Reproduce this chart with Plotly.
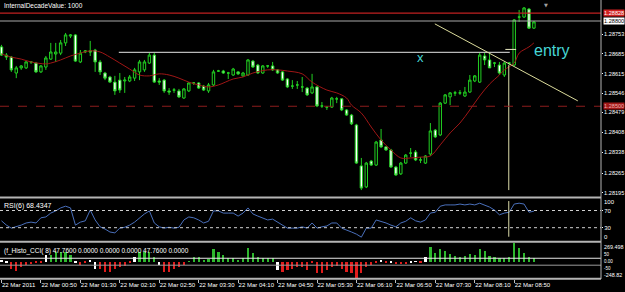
import plotly.graph_objects as go

# ---------------- data ----------------
bars = list(range(109))

open_p = [1.28709,1.28680,1.28673,1.28617,1.28635,1.28635,1.28656,1.28652,1.28621,1.28638,
          1.28666,1.28684,1.28687,1.28723,1.28747,1.28751,1.28656,1.28691,1.28695,1.28698,
          1.28656,1.28617,1.28603,1.28585,1.28592,1.28589,1.28589,1.28599,1.28621,1.28628,
          1.28652,1.28680,1.28589,1.28592,1.28554,1.28557,1.28554,1.28529,1.28554,1.28582,
          1.28582,1.28571,1.28554,1.28575,1.28624,1.28624,1.28617,1.28610,1.28621,1.28607,
          1.28610,1.28659,1.28645,1.28617,1.28642,1.28642,1.28628,1.28621,1.28596,1.28571,
          1.28575,1.28568,1.28564,1.28547,1.28568,1.28501,1.28497,1.28497,1.28526,1.28526,
          1.28487,1.28469,1.28434,1.28290,1.28216,1.28307,1.28293,1.28381,1.28357,1.28346,
          1.28286,1.28262,1.28300,1.28335,1.28339,1.28311,1.28300,1.28332,1.28416,1.28399,
          1.28511,1.28533,1.28547,1.28547,1.28536,1.28550,1.28589,1.28585,1.28677,1.28663,
          1.28652,1.28645,1.28610,1.28652,1.28645,1.28814,1.28814,1.28842,1.28775]

high_p = [1.28716,1.28687,1.28677,1.28642,1.28645,1.28659,1.28659,1.28656,1.28645,1.28677,
          1.28723,1.28723,1.28733,1.28758,1.28754,1.28754,1.28698,1.28698,1.28730,1.28702,
          1.28663,1.28621,1.28607,1.28607,1.28617,1.28603,1.28610,1.28635,1.28663,1.28663,
          1.28691,1.28691,1.28599,1.28596,1.28564,1.28564,1.28561,1.28564,1.28585,1.28585,
          1.28585,1.28575,1.28582,1.28628,1.28628,1.28628,1.28621,1.28635,1.28624,1.28621,
          1.28666,1.28663,1.28649,1.28645,1.28645,1.28656,1.28631,1.28624,1.28599,1.28592,
          1.28589,1.28603,1.28568,1.28614,1.28571,1.28515,1.28501,1.28533,1.28533,1.28529,
          1.28490,1.28473,1.28438,1.28318,1.28304,1.28311,1.28378,1.28420,1.28360,1.28350,
          1.28290,1.28304,1.28332,1.28353,1.28346,1.28321,1.28328,1.28441,1.28420,1.28515,
          1.28543,1.28550,1.28554,1.28557,1.28568,1.28610,1.28610,1.28691,1.28691,1.28687,
          1.28656,1.28656,1.28656,1.28656,1.28807,1.28839,1.28849,1.28846,1.28800]

low_p = [1.28677,1.28663,1.28621,1.28599,1.28628,1.28631,1.28649,1.28617,1.28617,1.28628,
         1.28663,1.28656,1.28680,1.28712,1.28740,1.28656,1.28652,1.28687,1.28677,1.28621,
         1.28610,1.28592,1.28582,1.28540,1.28547,1.28547,1.28585,1.28589,1.28592,1.28621,
         1.28649,1.28582,1.28575,1.28547,1.28540,1.28547,1.28529,1.28526,1.28550,1.28575,
         1.28561,1.28554,1.28547,1.28571,1.28621,1.28614,1.28596,1.28607,1.28610,1.28603,
         1.28607,1.28635,1.28614,1.28614,1.28635,1.28624,1.28614,1.28589,1.28564,1.28561,
         1.28561,1.28550,1.28536,1.28543,1.28497,1.28494,1.28487,1.28494,1.28511,1.28483,
         1.28466,1.28434,1.28297,1.28205,1.28212,1.28290,1.28290,1.28353,1.28343,1.28283,
         1.28255,1.28258,1.28297,1.28321,1.28307,1.28300,1.28297,1.28325,1.28388,1.28395,
         1.28508,1.28504,1.28536,1.28540,1.28533,1.28547,1.28585,1.28582,1.28645,1.28635,
         1.28638,1.28610,1.28603,1.28645,1.28642,1.28797,1.28811,1.28772,1.28772]

close_p = [1.28680,1.28673,1.28628,1.28635,1.28642,1.28656,1.28656,1.28621,1.28642,1.28670,
           1.28691,1.28691,1.28723,1.28751,1.28751,1.28659,1.28687,1.28695,1.28691,1.28656,
           1.28621,1.28599,1.28585,1.28554,1.28557,1.28592,1.28603,1.28628,1.28656,1.28656,
           1.28680,1.28585,1.28585,1.28554,1.28550,1.28557,1.28533,1.28561,1.28582,1.28582,
           1.28564,1.28557,1.28575,1.28621,1.28624,1.28617,1.28617,1.28631,1.28614,1.28617,
           1.28663,1.28638,1.28617,1.28642,1.28642,1.28628,1.28617,1.28592,1.28568,1.28571,
           1.28575,1.28568,1.28540,1.28568,1.28501,1.28501,1.28497,1.28529,1.28526,1.28487,
           1.28469,1.28438,1.28300,1.28212,1.28300,1.28293,1.28374,1.28357,1.28346,1.28286,
           1.28258,1.28300,1.28328,1.28335,1.28311,1.28311,1.28325,1.28413,1.28392,1.28511,
           1.28540,1.28547,1.28547,1.28547,1.28550,1.28592,1.28607,1.28680,1.28663,1.28635,
           1.28652,1.28617,1.28652,1.28652,1.28804,1.28814,1.28846,1.28775,1.28797]

# red moving average, read at selected bars
ma_bars = [0, 2, 4, 6, 9, 10, 12, 14, 16, 18, 20, 22, 24, 26, 28, 30, 32, 34, 36, 38,
           40, 42, 44, 47, 49, 51, 54, 56, 58, 61, 63, 66, 68, 70, 71, 73, 75, 77, 79, 81,
           83, 85, 87, 89, 91, 93, 95, 97, 99, 101, 102, 104, 105, 107, 108]
ma_vals = [1.28684,1.28673,1.28666,1.28656,1.28649,1.28652,1.28663,1.28677,1.28687,1.28695,
           1.28691,1.28673,1.28652,1.28631,1.28610,1.28607,1.28614,1.28610,1.28599,1.28585,
           1.28575,1.28568,1.28575,1.28596,1.28603,1.28617,1.28628,1.28628,1.28624,1.28614,
           1.28585,1.28557,1.28547,1.28529,1.28504,1.28476,1.28427,1.28381,1.28346,1.28318,
           1.28318,1.28321,1.28325,1.28364,1.28406,1.28441,1.28487,1.28536,1.28578,1.28610,
           1.28628,1.28652,1.28687,1.28709,1.28723]

rsi = [46,36,29,32,36,41,43,41,53,55, 64,69,76,80,76,36,43,46,71,48,
       32,27,20,18,29,31,36,43,53,62, 69,41,32,29,31,29,31,48,55,53,
       48,41,45,69,69,64,64,64,57,64, 76,62,57,53,48,50,43,36,29,29,
       29,32,29,41,29,32,34,41,41,29, 25,20,15,8,29,29,48,45,41,36,
       32,41,45,53,46,43,48,64,66,80, 83,83,83,85,83,85,83,87,83,78,
       71,60,64,66,85,87,85,66,68.4347]

hist = [20,-10,-110,-140,-70,-50,-35,-20,-20,95, 96,144,144,144,96,-15,-40,-20,30,-110,
        -110,-144,-144,-110,-80,-60,-20,72,144,144, 144,72,-40,-144,-144,-100,-80,-40,10,72,
        72,30,40,178,144,96,50,50,30,50, 193,120,72,50,50,50,-120,-144,-120,-110,
        -80,-80,-120,-20,-167,-160,-120,-80,-62,-110, -144,-167,-248.82,-167,-80,-40,-15,25,-10,-10,
        -33,-30,-33,-10,10,-5,72,207,130,178, 158,110,82,72,82,110,96,178,158,82,
        72,48,48,72,269.498,193,130,72,47.76]
hist_white = [0, 1, 9, 15, 18, 19, 27, 32, 56, 77, 79, 83, 84, 86]

time_labels = ["22 Mar 2011", "22 Mar 00:50", "22 Mar 01:30", "22 Mar 02:10", "22 Mar 02:50",
               "22 Mar 03:30", "22 Mar 04:10", "22 Mar 04:50", "22 Mar 05:30", "22 Mar 06:10",
               "22 Mar 06:50", "22 Mar 07:30", "22 Mar 08:10", "22 Mar 08:50"]
time_ticks = [0, 8, 16, 24, 32, 40, 48, 56, 64, 72, 80, 88, 96, 104]

price_ticks = [1.28195, 1.28265, 1.28338, 1.28408, 1.28479, 1.28546, 1.28615, 1.28685, 1.28753]

ask_line = 1.28828
bid_line = 1.28800
level_line = 1.28500

trend_x = [87.9, 116.9]
trend_y = [1.28790, 1.28519]
hline_x = [23.8, 103.1]
hline_y = [1.28690, 1.28690]
seg_x = [102.2, 104.4]
seg_y = [1.28700, 1.28700]
vline_x = [102.9, 102.9]
vline_y = [1.28645, 1.28205]
vline_rsi = [92, 9]

# ---------------- styling ----------------
GREEN = "#22d022"
FONT = "Liberation Sans"
W, H = 625, 292
MB = 13
MR = 24
PH = H - MB  # plot height in px
PW = W - MR
BAR_PX = 4.93


def py(pix):
    return (PH - pix) / PH


main_dom = [py(197), 1.0]
rsi_dom = [py(240.6), py(197.6)]
hist_dom = [0.0, py(243)]
x_lo = -0.3
x_hi = x_lo + PW / BAR_PX

fig = go.Figure()

fig.add_trace(go.Candlestick(
    x=bars, open=open_p, high=high_p, low=low_p, close=close_p,
    increasing=dict(line=dict(color=GREEN, width=1), fillcolor="black"),
    decreasing=dict(line=dict(color=GREEN, width=1), fillcolor="white"),
    whiskerwidth=0, xaxis="x", yaxis="y", hoverinfo="skip", showlegend=False))

fig.add_trace(go.Scatter(x=ma_bars, y=ma_vals, mode="lines",
                         line=dict(color="#a01616", width=1, shape="spline"),
                         xaxis="x", yaxis="y", hoverinfo="skip", showlegend=False))

for xs, ys, col, wd in [(hline_x, hline_y, "#b8b8b8", 1.2),
                        (trend_x, trend_y, "#dcdc9c", 1),
                        (seg_x, seg_y, "#e8e8c0", 1),
                        (vline_x, vline_y, "#dcdcaa", 1)]:
    fig.add_trace(go.Scatter(x=xs, y=ys, mode="lines", line=dict(color=col, width=wd),
                             xaxis="x", yaxis="y", hoverinfo="skip", showlegend=False))

fig.add_trace(go.Scatter(x=bars, y=rsi, mode="lines", line=dict(color="#4a70bc", width=1),
                         xaxis="x2", yaxis="y2", hoverinfo="skip", showlegend=False))
fig.add_trace(go.Scatter(x=vline_x, y=vline_rsi, mode="lines", line=dict(color="#dcdcaa", width=1),
                         xaxis="x2", yaxis="y2", hoverinfo="skip", showlegend=False))

hcolors = []
for i, v in enumerate(hist):
    if i in hist_white:
        hcolors.append("white")
    elif v >= 0:
        hcolors.append("#2eb82e")
    else:
        hcolors.append("#e01c1c")
fig.add_trace(go.Bar(x=bars, y=hist, marker=dict(color=hcolors, line=dict(width=0)), width=0.45,
                     xaxis="x3", yaxis="y3", hoverinfo="skip", showlegend=False))

shapes = []
shapes.append(dict(type="line", xref="paper", yref="y", x0=0, x1=1, y0=ask_line, y1=ask_line,
                   line=dict(color="#c02020", width=1.2)))
shapes.append(dict(type="line", xref="paper", yref="y", x0=0, x1=1, y0=bid_line, y1=bid_line,
                   line=dict(color="#a8a8a8", width=1.2)))
shapes.append(dict(type="line", xref="paper", yref="y", x0=0, x1=1, y0=level_line, y1=level_line,
                   line=dict(color="#8c1c1c", width=1.2, dash="dash")))
for lv in (70, 30):
    shapes.append(dict(type="line", xref="paper", yref="y2", x0=0, x1=1, y0=lv, y1=lv,
                       line=dict(color="#d0d0d0", width=1, dash="dot")))
shapes.append(dict(type="line", xref="paper", yref="y3", x0=0, x1=1, y0=50, y1=50,
                   line=dict(color="#e8e8e8", width=1)))
shapes.append(dict(type="line", xref="paper", yref="y3", x0=0, x1=1, y0=-50, y1=-50,
                   line=dict(color="#9a9a9a", width=1)))
for pix in (197.5, 241.7, 278.8):
    shapes.append(dict(type="line", xref="paper", yref="paper", x0=0, x1=1, y0=py(pix), y1=py(pix),
                       line=dict(color="#b4b4b4", width=2)))
shapes.append(dict(type="line", xref="paper", yref="paper", x0=1, x1=1, y0=0, y1=1,
                   line=dict(color="#b4b4b4", width=1)))

ann = []
small = dict(family=FONT, size=6.5, color="white")
ann.append(dict(text="InternalDecadeValue: 1000", xref="paper", yref="paper", x=0.003, y=1.0,
                xanchor="left", yanchor="top", showarrow=False, font=small))
ann.append(dict(text="RSI(6) 68.4347", xref="paper", yref="paper", x=0.004, y=py(199.5),
                xanchor="left", yanchor="top", showarrow=False, font=dict(family=FONT, size=7, color="white")))
ann.append(dict(text="(f_Histo_CCI( 8) 47.7600 0.0000 0.0000 0.0000 47.7600 0.0000", xref="paper",
                yref="paper", x=0.003, y=py(244.5), xanchor="left", yanchor="top", showarrow=False,
                font=small))
ann.append(dict(text="x", xref="x", yref="y", x=84.9, y=1.28673, showarrow=False,
                font=dict(family=FONT, size=13, color="#46d6d6")))
ann.append(dict(text="entry", xref="x", yref="y", x=107.6, y=1.28698, xanchor="left", showarrow=False,
                font=dict(family=FONT, size=16, color="#46d6d6")))
ann.append(dict(text="▼", xref="x", yref="paper", x=110.5, y=1.0, yanchor="top", showarrow=False,
                font=dict(family="DejaVu Sans", size=5, color="#a0a0a0")))
AX = 1.0 + 2.0 / PW
for val, txt, bg, fc in [(ask_line, "1.28828", "#d02020", "#ffffff"),
                         (bid_line, "1.28800", "#ffffff", "#000000"),
                         (level_line, "1.28500", "#a01818", "#f0b0b0")]:
    ann.append(dict(text=txt, xref="paper", yref="y", x=AX, y=val, xanchor="left", yanchor="middle",
                    showarrow=False, bgcolor=bg, borderpad=0,
                    font=dict(family=FONT, size=5.6, color=fc)))
for txt, val, anc in [("100", 100, "top"), ("0", 0, "bottom")]:
    ann.append(dict(text=txt, xref="paper", yref="y2", x=AX, y=val, xanchor="left", yanchor=anc,
                    showarrow=False, borderpad=0, font=dict(family=FONT, size=6, color="white")))
for txt, val, anc, fs in [("269.498", 269.498, "top", 5.4), ("50", 50, "bottom", 4.5),
                          ("0.00", 0, "middle", 4.5), ("-50", -50, "top", 4.5),
                          ("-248.82", -248.82, "bottom", 5.4)]:
    ann.append(dict(text=txt, xref="paper", yref="y3", x=AX, y=val, xanchor="left", yanchor=anc,
                    showarrow=False, borderpad=0, font=dict(family=FONT, size=fs, color="white")))

xcommon = dict(showgrid=False, zeroline=False, showline=False, range=[x_lo, x_hi], fixedrange=True,
               automargin=False)

fig.update_layout(
    width=W, height=H,
    margin=dict(l=0, r=MR, t=0, b=MB, autoexpand=False),
    paper_bgcolor="black", plot_bgcolor="black",
    showlegend=False, bargap=0,
    xaxis=dict(domain=[0, 1], anchor="y", showticklabels=False, rangeslider=dict(visible=False), **xcommon),
    xaxis2=dict(domain=[0, 1], anchor="y2", matches="x", showticklabels=False, **xcommon),
    xaxis3=dict(domain=[0, 1], anchor="y3", matches="x", tickmode="array", tickvals=time_ticks,
                ticktext=time_labels, ticks="outside", ticklen=3, tickcolor="#c0c0c0",
                ticklabelposition="outside right", tickangle=0,
                tickfont=dict(family=FONT, size=6, color="white"), **xcommon),
    yaxis=dict(domain=main_dom, anchor="x", side="right", range=[1.281806, 1.28874],
               tickmode="array", tickvals=price_ticks, ticktext=[f"{v:.5f}" for v in price_ticks],
               ticks="outside", ticklen=1, tickcolor="white",
               tickfont=dict(family=FONT, size=5.6, color="white"),
               showgrid=False, zeroline=False, fixedrange=True, automargin=False),
    yaxis2=dict(domain=rsi_dom, anchor="x2", side="right", range=[0, 100],
                tickmode="array", tickvals=[30, 70], ticktext=["30", "70"],
                ticks="outside", ticklen=1, tickcolor="white",
                tickfont=dict(family=FONT, size=6, color="white"),
                showgrid=False, zeroline=False, fixedrange=True, automargin=False),
    yaxis3=dict(domain=hist_dom, anchor="x3", side="right", range=[-248.82, 269.498],
                showticklabels=False, ticks="",
                showgrid=False, zeroline=False, fixedrange=True, automargin=False),
    shapes=shapes, annotations=ann,
)

fig.write_html("out.html")
